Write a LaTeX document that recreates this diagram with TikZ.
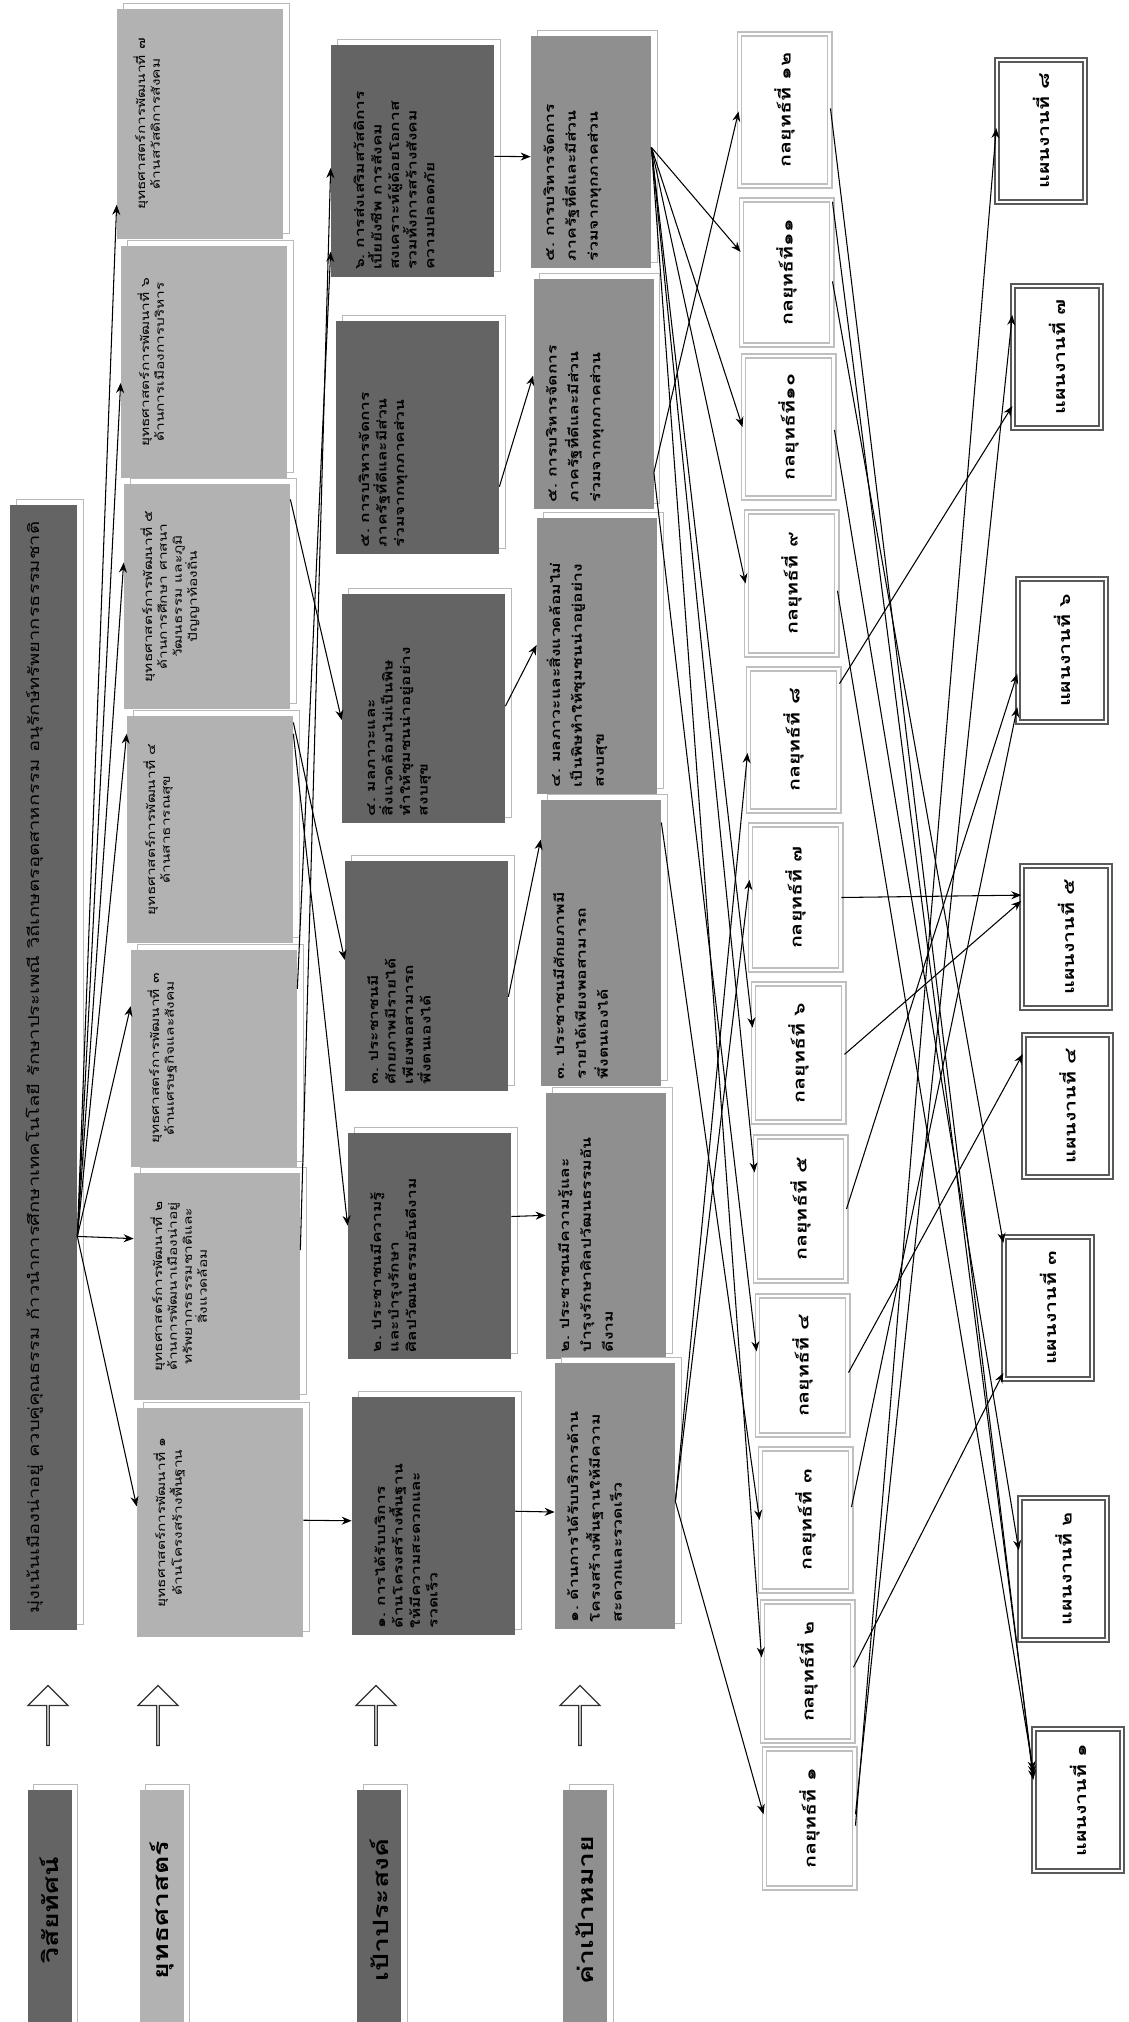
\documentclass[tikz,border=0pt]{standalone}
\usepackage{fontspec}
\newfontfamily\thai[Script=Thai]{Loma}
\usetikzlibrary{arrows.meta,calc,shapes.arrows,shadows}

\definecolor{darkbox}{HTML}{646464}
\definecolor{midbox}{HTML}{8F8F8F}
\definecolor{lightbox}{HTML}{B2B2B2}
\newcommand\txsc{1.35}
% points on the left / right edge of a turned box, #2 = part of the way from its top
\newcommand\lside[2]{($(#1.north east)!#2!(#1.north west)$)}
\newcommand\rside[2]{($(#1.south east)!#2!(#1.south west)$)}

\begin{document}
\begin{tikzpicture}[
  x=0.2mm, y=-0.2mm, font=\thai,
  box/.style={rotate=90, xscale=\txsc, inner xsep=0pt, inner ysep=1mm,
    general shadow={shadow xshift=1.2mm, shadow yshift=1.2mm, fill=white, draw=gray!55}},
  boxlen/.code={\pgfmathsetmacro\mw{#1*0.2/\txsc}\pgfmathsetmacro\tw{(#1-14)*0.2/\txsc}%
    \edef\tmp{\noexpand\tikzset{minimum width=\mw mm, text width=\tw mm}}\tmp},
  headbox/.style={box, align=center, minimum height=8.8mm, font=\thai\bfseries\fontsize{12}{14}\selectfont},
  vision/.style={box, fill=darkbox, align=center, text height=4.8mm, text depth=6.6mm,
    font=\thai\fontsize{8.5}{10}\selectfont},
  strategy/.style={box, fill=lightbox, align=center, text height=4.6mm, text depth=26.6mm,
    font=\thai\fontsize{6.5}{8.5}\selectfont},
  goal/.style={box, fill=darkbox, align=left, text height=5.6mm, text depth=25mm,
    font=\thai\bfseries\fontsize{7.3}{10}\selectfont},
  target/.style={box, fill=midbox, align=left, text height=3.6mm, text depth=18.4mm,
    font=\thai\bfseries\fontsize{7.4}{12.5}\selectfont},
  tactic/.style={rotate=90, xscale=\txsc, align=center, fill=white, draw=gray!50, double=white,
    double distance=1.2pt, line width=1.1pt, minimum height=18mm, font=\thai\bfseries\fontsize{9}{10}\selectfont},
  plan/.style={tactic, draw=black!65, minimum height=17.5mm},
  hollow/.style={single arrow, draw=black!80, fill=white, rotate=90, minimum height=12mm,
    minimum width=8mm, single arrow head extend=2mm, inner sep=0pt, line width=0.7pt},
  link/.style={-{Stealth[length=2mm,width=1.6mm]}, line width=0.6pt}]

  \useasboundingbox (0,0) rectangle (1129,2022);
  \fill[white] (0,0) rectangle (1129,2022);

  % row names at the foot of the page
  \node[headbox, fill=darkbox, boxlen=240] (hvision) at (49.5,1910) {วิสัยทัศน์};
  \node[headbox, fill=lightbox, boxlen=240] (hstrategy) at (161.5,1910) {ยุทธศาสตร์};
  \node[headbox, fill=darkbox, boxlen=240] (hgoal) at (379,1910) {เป้าประสงค์};
  \node[headbox, fill=midbox, boxlen=240] (htarget) at (585,1910) {ค่าเป้าหมาย};
  \node[hollow] (up1) at (48,1716) {};
  \node[hollow] (up2) at (158,1716) {};
  \node[hollow] (up3) at (376,1716) {};
  \node[hollow] (up4) at (580,1716) {};

  % vision
  \node[vision, boxlen=1125] (V) at (43.5,1067.5) {มุ่งเน้นเมืองน่าอยู่ ควบคู่คุณธรรม ก้าวนำการศึกษาเทคโนโลยี รักษาประเพณี วิถีเกษตรอุตสาหกรรม อนุรักษ์ทรัพยากรธรรมชาติ};

  % strategies
  \node[strategy, boxlen=230] (S7) at (200,124) {ยุทธศาสตร์การพัฒนาที่~๗\\ด้านสวัสดิการสังคม};
  \node[strategy, boxlen=232] (S6) at (204,362) {ยุทธศาสตร์การพัฒนาที่~๖\\ด้านการเมืองการบริหาร};
  \node[strategy, boxlen=225] (S5) at (207,596.5) {ยุทธศาสตร์การพัฒนาที่~๕\\ด้านการศึกษา ศาสนา วัฒนธรรม และภูมิ\\ปัญญาท้องถิ่น};
  \node[strategy, boxlen=227] (S4) at (210,829.5) {ยุทธศาสตร์การพัฒนาที่~๔\\ด้านสาธารณสุข};
  \node[strategy, boxlen=217] (S3) at (214,1058.5) {ยุทธศาสตร์การพัฒนาที่~๓\\ด้านเศรษฐกิจและสังคม};
  \node[strategy, boxlen=227] (S2) at (217,1286.5) {ยุทธศาสตร์การพัฒนาที่~๒\\ด้านการพัฒนาเมืองน่าอยู่\\ทรัพยากรธรรมชาติและ\\สิ่งแวดล้อม};
  \node[strategy, boxlen=229] (S1) at (220,1522.5) {ยุทธศาสตร์การพัฒนาที่~๑\\ด้านโครงสร้างพื้นฐาน};

  % goals
  \node[goal, boxlen=232] (G6) at (412.5,161) {๖.~การส่งเสริมสวัสดิการ\\เบี้ยยังชีพ การสังคม\\สงเคราะห์ผู้ด้อยโอกาส\\รวมทั้งการสร้างสังคม\\ความปลอดภัย};
  \node[goal, boxlen=233] (G5) at (417.5,437.5) {๕.~การบริหารจัดการ\\ภาครัฐที่ดีและมีส่วน\\ร่วมจากทุกภาคส่วน};
  \node[goal, boxlen=229] (G4) at (423.5,708.5) {๔.~มลภาวะและ\\สิ่งแวดล้อมไม่เป็นพิษ\\ทำให้ชุมชนน่าอยู่อย่าง\\สงบสุข};
  \node[goal, boxlen=230] (G3) at (426.5,976) {๓.~ประชาชนมี\\ศักยภาพมีรายได้\\เพียงพอสามารถ\\พึ่งตนเองได้};
  \node[goal, boxlen=226] (G2) at (429.5,1246) {๒.~ประชาชนมีความรู้\\และบำรุงรักษา\\ศิลปวัฒนธรรมอันดีงาม};
  \node[goal, boxlen=238] (G1) at (433.5,1516) {๑.~การได้รับบริการ\\ด้านโครงสร้างพื้นฐาน\\ให้มีความสะดวกและ\\รวดเร็ว};

  % targets
  \node[target, boxlen=232] (T6) at (591,152) {๕.~การบริหารจัดการ\\ภาครัฐที่ดีและมีส่วน\\ร่วมจากทุกภาคส่วน};
  \node[target, boxlen=230] (T5) at (593.5,394) {๕.~การบริหารจัดการ\\ภาครัฐที่ดีและมีส่วน\\ร่วมจากทุกภาคส่วน};
  \node[target, boxlen=276] (T4) at (597,656) {๔.~มลภาวะและสิ่งแวดล้อมไม่\\เป็นพิษทำให้ชุมชนน่าอยู่อย่าง\\สงบสุข};
  \node[target, boxlen=286] (T3) at (601,943) {๓.~ประชาชนมีศักยภาพมี\\รายได้เพียงพอสามารถ\\พึ่งตนเองได้};
  \node[target, boxlen=266] (T2) at (606,1226) {๒.~ประชาชนมีความรู้และ\\บำรุงรักษาศิลปวัฒนธรรมอัน\\ดีงาม};
  \node[target, boxlen=266] (T1) at (615,1496) {๑.~ด้านการได้รับบริการด้าน\\โครงสร้างพื้นฐานให้มีความ\\สะดวกและรวดเร็ว};

  % tactics
  \node[tactic, boxlen=150] (K12) at (784.5,110) {กลยุทธ์ที่~๑๒};
  \node[tactic, boxlen=143] (K11) at (786.5,272.5) {กลยุทธ์ที่๑๑};
  \node[tactic, boxlen=140] (K10) at (788.5,427) {กลยุทธ์ที่๑๐};
  \node[tactic, boxlen=141] (K9) at (791.5,583.5) {กลยุทธ์ที่~๙};
  \node[tactic, boxlen=140] (K8) at (793.5,740) {กลยุทธ์ที่~๘};
  \node[tactic, boxlen=143] (K7) at (795.5,897.5) {กลยุทธ์ที่~๗};
  \node[tactic, boxlen=136] (K6) at (798.5,1053) {กลยุทธ์ที่~๖};
  \node[tactic, boxlen=142] (K5) at (800.5,1209) {กลยุทธ์ที่~๕};
  \node[tactic, boxlen=137] (K4) at (802.5,1365.5) {กลยุทธ์ที่~๔};
  \node[tactic, boxlen=140] (K3) at (805.5,1520) {กลยุทธ์ที่~๓};
  \node[tactic, boxlen=137] (K2) at (807.5,1671.5) {กลยุทธ์ที่~๒};
  \node[tactic, boxlen=137] (K1) at (809.5,1818.5) {กลยุทธ์ที่~๑};

  % plans
  \node[plan, boxlen=140] (P8) at (1041,131) {แผนงานที่~๘};
  \node[plan, boxlen=140] (P7) at (1057,357) {แผนงานที่~๗};
  \node[plan, boxlen=141] (P6) at (1062,650.5) {แผนงานที่~๖};
  \node[plan, boxlen=140] (P5) at (1066,937) {แผนงานที่~๕};
  \node[plan, boxlen=140] (P4) at (1067.5,1106) {แผนงานที่~๔};
  \node[plan, boxlen=140] (P3) at (1048,1308) {แผนงานที่~๓};
  \node[plan, boxlen=140] (P2) at (1063.5,1569) {แผนงานที่~๒};
  \node[plan, boxlen=140] (P1) at (1078,1800) {แผนงานที่~๑};

  % vision -> strategies
  \draw[link] \rside{V}{0.65} -- \lside{S7}{0.85};
  \draw[link] \rside{V}{0.65} -- \lside{S6}{0.59};
  \draw[link] \rside{V}{0.65} -- \lside{S5}{0.35};
  \draw[link] \rside{V}{0.65} -- \lside{S4}{0.08};
  \draw[link] \rside{V}{0.65} -- \lside{S3}{0.26};
  \draw[link] \rside{V}{0.65} -- \lside{S2}{0.29};
  \draw[link] \rside{V}{0.65} -- \lside{S1}{0.43};

  % strategies -> goals
  \draw[link] \rside{S5}{0.07} -- \lside{G4}{0.55};
  \draw[link] \rside{S4}{0.03} -- \lside{G3}{0.43};
  \draw[link] \rside{S4}{0.08} -- \lside{G2}{0.41};
  \draw[link] \rside{S3}{0.18} -- \lside{G6}{0.89};
  \draw[link] \rside{S2}{0.34} -- \lside{G6}{0.53};
  \draw[link] \rside{S1}{0.49} -- \lside{G1}{0.52};

  % goals -> targets
  \draw[link] \rside{G6}{0.48} -- \lside{T6}{0.52};
  \draw[link] \rside{G5}{0.71} -- \lside{T5}{0.42};
  \draw[link] \rside{G4}{0.49} -- \lside{T4}{0.46};
  \draw[link] \rside{G3}{0.59} -- \lside{T3}{0.14};
  \draw[link] \rside{G2}{0.37} -- \lside{T2}{0.46};
  \draw[link] \rside{G1}{0.48} -- \lside{T1}{0.56};

  % targets -> tactics
  \draw[link] \rside{T6}{0.48} -- \lside{K11}{0.36};
  \draw[link] \rside{T6}{0.48} -- \lside{K10}{0.5};
  \draw[link] \rside{T6}{0.48} -- \lside{K9}{0.5};
  \draw[link] \rside{T6}{0.48} -- \lside{K6}{0.32};
  \draw[link] \rside{T6}{0.48} -- \lside{K5}{0.25};
  \draw[link] \rside{T6}{0.48} -- \lside{K2}{0.4};
  \draw[link] \rside{T5}{0.84} -- \lside{K12}{0.51};
  \draw[link] \rside{T5}{0.84} -- \lside{K4}{0.4};
  \draw[link] \rside{T3}{0.08} -- \lside{K3}{0.5};
  \draw[link] \rside{T1}{0.52} -- \lside{K1}{0.47};
  \draw[link] \rside{T1}{0.52} -- \lside{K7}{0.38};
  \draw[link] \rside{T1}{0.52} -- \lside{K8}{0.59};

  % tactics -> plans
  \draw[link] \rside{K12}{0.49} -- \lside{P1}{0.36};
  \draw[link] \rside{K11}{0.02} -- \lside{P1}{0.33};
  \draw[link] \rside{K11}{0.56} -- \lside{P3}{0.05};
  \draw[link] \rside{K10}{0.52} -- \lside{P2}{0.37};
  \draw[link] \rside{K9}{0.55} -- \lside{P1}{0.30};
  \draw[link] \rside{K8}{0.11} -- \lside{P7}{0.84};
  \draw[link] \rside{K7}{0.5} -- \lside{P5}{0.21};
  \draw[link] \rside{K6}{0.51} -- \lside{P5}{0.25};
  \draw[link] \rside{K5}{0.5} -- \lside{P6}{0.66};
  \draw[link] \rside{K4}{0.55} -- \lside{P4}{0.14};
  \draw[link] \rside{K3}{0.41} -- \lside{P6}{0.89};
  \draw[link] \rside{K2}{0.47} -- \lside{P3}{0.95};
  \draw[link] \rside{K1}{0.47} -- \lside{P7}{0.21};
  \draw[link] \rside{K1}{0.55} -- \lside{P8}{0.48};
\end{tikzpicture}
\end{document}
